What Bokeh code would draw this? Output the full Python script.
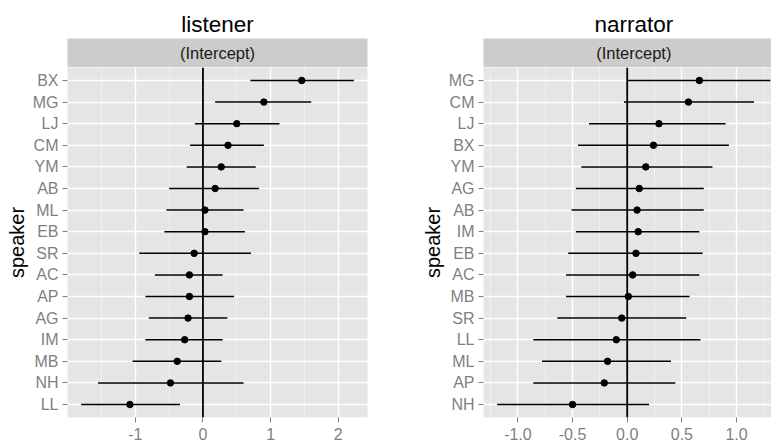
from bokeh.plotting import figure
from bokeh.layouts import row, column
from bokeh.models import FixedTicker, Span, Label, ColumnDataSource
from bokeh.embed import file_html
from bokeh.resources import INLINE

# ---------------- data ----------------
listener_speakers = ["BX", "MG", "LJ", "CM", "YM", "AB", "ML", "EB",
                     "SR", "AC", "AP", "AG", "IM", "MB", "NH", "LL"]
listener_est = [1.46, 0.90, 0.50, 0.37, 0.27, 0.18, 0.03, 0.03,
                -0.13, -0.20, -0.20, -0.22, -0.27, -0.38, -0.48, -1.08]
listener_lo = [0.70, 0.18, -0.12, -0.19, -0.24, -0.50, -0.54, -0.57,
               -0.94, -0.71, -0.85, -0.80, -0.85, -1.04, -1.55, -1.80]
listener_hi = [2.23, 1.60, 1.13, 0.90, 0.78, 0.83, 0.60, 0.62,
               0.71, 0.29, 0.46, 0.36, 0.29, 0.27, 0.60, -0.34]

narrator_speakers = ["MG", "CM", "LJ", "BX", "YM", "AG", "AB", "IM",
                     "EB", "AC", "MB", "SR", "LL", "ML", "AP", "NH"]
narrator_est = [0.66, 0.56, 0.29, 0.24, 0.17, 0.11, 0.09, 0.10,
                0.08, 0.05, 0.01, -0.05, -0.10, -0.18, -0.21, -0.50]
narrator_lo = [0.00, -0.03, -0.35, -0.45, -0.42, -0.47, -0.51, -0.47,
               -0.54, -0.56, -0.56, -0.64, -0.86, -0.78, -0.86, -1.19]
narrator_hi = [1.31, 1.16, 0.90, 0.93, 0.78, 0.70, 0.70, 0.66,
               0.69, 0.66, 0.57, 0.54, 0.67, 0.40, 0.44, 0.20]

listener_xticks = [-1, 0, 1, 2]
listener_xlabels = ["-1", "0", "1", "2"]
listener_xminor = [-1.5, -0.5, 0.5, 1.5]

narrator_xticks = [-1.0, -0.5, 0.0, 0.5, 1.0]
narrator_xlabels = ["-1.0", "-0.5", "0.0", "0.5", "1.0"]
narrator_xminor = [-1.25, -0.75, -0.25, 0.25, 0.75, 1.25]

strip_text = "(Intercept)"
y_title = "speaker"

FONT = "Liberation Sans"
H = 444
STRIP_TOP = 38
STRIP_H = 29


def expanded(lo, hi, mult=0.05):
    a, b = min(lo), max(hi)
    d = (b - a) * mult
    return a - d, b + d


def panel(title, speakers, est, lo, hi, xticks, xlabels, xminor,
          width, bl, br, visible_end=None, title_offset=None):
    n = len(speakers)
    ypos = [n - i for i in range(n)]
    src = ColumnDataSource(dict(y=ypos, est=est, lo=lo, hi=hi))
    full = expanded(lo, hi)
    xr = (full[0], visible_end if visible_end is not None else full[1])

    # ---- facet strip with the panel title above it ----
    s = figure(width=width, height=STRIP_TOP + STRIP_H, x_range=xr,
               y_range=(0, 1), output_backend="svg", toolbar_location=None,
               tools="", x_axis_location=None, y_axis_location=None,
               min_border_left=bl, min_border_right=br,
               min_border_top=STRIP_TOP, min_border_bottom=0)
    s.background_fill_color = "#CCCCCC"
    s.border_fill_color = "white"
    s.outline_line_color = None
    s.grid.grid_line_color = None
    s.title.text = title
    s.title.text_font = FONT
    s.title.text_font_size = "22.5px"
    s.title.text_font_style = "normal"
    s.title.text_color = "black"
    s.title.standoff = 3
    if title_offset is None:
        s.title.align = "center"
    else:
        s.title.align = "left"
        s.title.offset = title_offset
    s.add_layout(Label(x=(full[0] + full[1]) / 2, y=0.5, text=strip_text,
                       text_align="center", text_baseline="middle",
                       text_font=FONT, text_font_size="16.5px",
                       text_color="#1A1A1A"))

    # ---- main panel ----
    p = figure(width=width, height=H - STRIP_TOP - STRIP_H, x_range=xr,
               y_range=(0.4, n + 0.6),
               output_backend="svg", toolbar_location=None, tools="",
               min_border_left=bl, min_border_right=br,
               min_border_top=0, min_border_bottom=27)
    p.background_fill_color = "#E5E5E5"
    p.border_fill_color = "white"
    p.outline_line_color = None

    p.xgrid.grid_line_color = "white"
    p.xgrid.grid_line_width = 1.4
    p.xgrid.minor_grid_line_color = "#F2F2F2"
    p.xgrid.minor_grid_line_width = 0.8
    p.ygrid.grid_line_color = "white"
    p.ygrid.grid_line_width = 1.4

    p.xaxis.ticker = FixedTicker(ticks=xticks, minor_ticks=xminor)
    p.xaxis.major_label_overrides = {t: l for t, l in zip(xticks, xlabels)}
    p.yaxis.ticker = FixedTicker(ticks=ypos)
    p.yaxis.major_label_overrides = {y: sp for y, sp in zip(ypos, speakers)}
    for ax in (p.xaxis[0], p.yaxis[0]):
        ax.axis_line_color = None
        ax.major_tick_line_color = "#7F7F7F"
        ax.major_tick_line_width = 1
        ax.major_tick_out = 5
        ax.major_tick_in = 0
        ax.minor_tick_line_color = None
        ax.major_label_text_font = FONT
        ax.major_label_text_font_size = "16px"
        ax.major_label_text_color = "#7F7F7F"
        ax.major_label_standoff = 4
    p.xaxis.major_label_standoff = 5
    p.yaxis.axis_label = y_title
    p.yaxis.axis_label_text_font = FONT
    p.yaxis.axis_label_text_font_size = "20px"
    p.yaxis.axis_label_text_font_style = "normal"
    p.yaxis.axis_label_text_color = "black"
    p.yaxis.axis_label_standoff = 2

    p.add_layout(Span(location=0, dimension="height", line_color="black",
                      line_width=1.8))
    p.segment(x0="lo", y0="y", x1="hi", y1="y", source=src,
              line_color="black", line_width=1.5)
    p.scatter(x="est", y="y", source=src, size=6.5, fill_color="black",
              line_color="black")
    return column(s, p, spacing=0)


W1 = 380
c1 = panel("listener", listener_speakers, listener_est, listener_lo,
           listener_hi, listener_xticks, listener_xlabels, listener_xminor,
           W1, 67, 13)
c2 = panel("narrator", narrator_speakers, narrator_est, narrator_lo,
           narrator_hi, narrator_xticks, narrator_xlabels, narrator_xminor,
           771 - W1, 103, 0, visible_end=1.32, title_offset=111)

layout = row(c1, c2, spacing=0)
open("out.html", "w").write(file_html(layout, INLINE))
